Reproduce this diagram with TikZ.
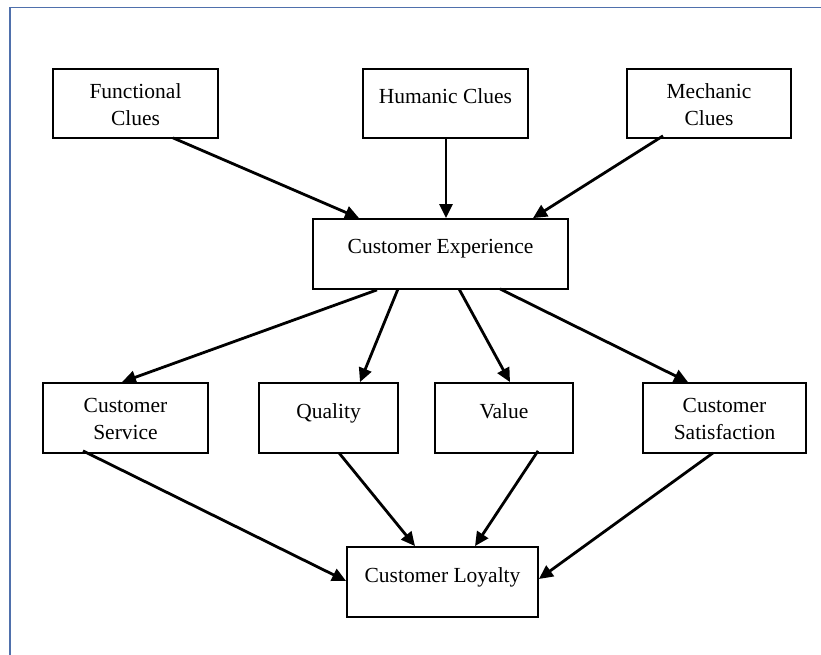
\documentclass[tikz,border=0pt]{standalone}
\usepackage{fontspec}
\setmainfont{Liberation Serif}
\usetikzlibrary{arrows.meta}
\definecolor{framecol}{RGB}{79,112,172}
\tikzset{
  box/.style={draw=black, line width=1.8pt, rectangle, inner sep=0pt, minimum height=70pt},
  txt/.style={inner sep=0pt, align=center, anchor=base, font=\fontsize{21.5}{26.5}\selectfont},
  arr/.style={line width=2.8pt, -{Triangle[length=14pt,width=13pt]}},
}
\begin{document}
\begin{tikzpicture}[x=1pt,y=-1pt]
\useasboundingbox (0,0) rectangle (821,655);
\draw[framecol, line width=1.8pt] (821,7.5) -- (10,7.5) -- (10,655);
% boxes
\node[box, minimum width=165pt, minimum height=69pt] (fc) at (135.5,103.5) {};
\node[box, minimum width=165pt, minimum height=69pt] (hc) at (445.5,103.5) {};
\node[box, minimum width=164pt, minimum height=69pt] (mc) at (709,103.5) {};
\node[box, minimum width=255pt] (ce) at (440.5,254) {};
\node[box, minimum width=165pt] (cs) at (125.5,418) {};
\node[box, minimum width=139pt] (q) at (328.5,418) {};
\node[box, minimum width=138pt] (v) at (504,418) {};
\node[box, minimum width=163pt] (sat) at (724.5,418) {};
\node[box, minimum width=191pt] (cl) at (442.5,582) {};
% texts
\node[txt] (fct) at ([yshift=-57pt]fc.north) {Functional\\Clues};
\node[txt] (hct) at ([yshift=-35pt]hc.north) {Humanic Clues};
\node[txt] (mct) at ([yshift=-57pt]mc.north) {Mechanic\\Clues};
\node[txt] (cet) at ([yshift=-35.5pt]ce.north) {Customer Experience};
\node[txt] (cst) at ([yshift=-57pt]cs.north) {Customer\\Service};
\node[txt] (qt) at ([yshift=-36pt]q.north) {Quality};
\node[txt] (vt) at ([yshift=-36pt]v.north) {Value};
\node[txt] (satt) at ([yshift=-57pt]sat.north) {Customer\\Satisfaction};
\node[txt] (clt) at ([yshift=-36pt]cl.north) {Customer Loyalty};
% arrows
\draw[arr] ([xshift=37.5pt,yshift=1pt]fc.south) -- ([xshift=-81.5pt]ce.north);
\draw[arr] ([xshift=0.5pt,yshift=1pt]hc.south) -- ([xshift=5.5pt]ce.north);
\draw[arr] ([xshift=-46pt,yshift=3pt]mc.south) -- ([xshift=92.5pt]ce.north);
\draw[arr] ([xshift=-63.5pt]ce.south) -- ([xshift=-3.5pt]cs.north);
\draw[arr] ([xshift=-42.5pt,yshift=1pt]ce.south) -- ([xshift=31.5pt]q.north);
\draw[arr] ([xshift=18.5pt,yshift=1pt]ce.south) -- ([xshift=6pt]v.north);
\draw[arr] ([xshift=59.5pt,yshift=1pt]ce.south) -- ([xshift=-36.5pt]sat.north);
\draw[arr] ([xshift=-42.5pt,yshift=3pt]cs.south) -- ([yshift=1pt]cl.west);
\draw[arr] ([xshift=10.5pt,yshift=1pt]q.south) -- ([xshift=-27.5pt]cl.north);
\draw[arr] ([xshift=34pt,yshift=3pt]v.south) -- ([xshift=32.5pt]cl.north);
\draw[arr] ([xshift=-11.5pt,yshift=1pt]sat.south) -- ([yshift=3pt]cl.east);
\end{tikzpicture}
\end{document}
